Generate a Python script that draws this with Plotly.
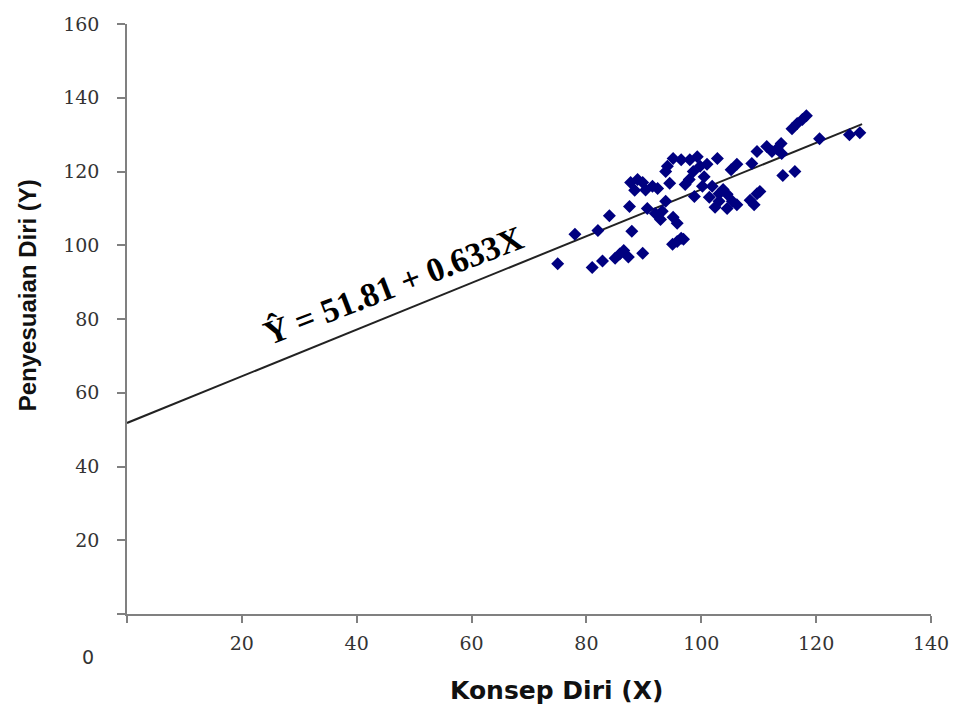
import plotly.graph_objects as go

# Scatter data: Konsep Diri (X) vs Penyesuaian Diri (Y)
konsep_diri = [75, 78, 81, 82, 82.8, 84, 85, 85.8, 86.5, 87.3, 87.9, 87.5, 87.7, 88.9, 88.4,
               89.8, 89.8, 90.3, 90.6, 91.5, 92.4, 92, 92.9, 93.2, 93.8, 93.8, 94.1, 94.5,
               95.1, 95.1, 95.8, 95, 95.8, 96.5, 96.5, 96.9, 97.2, 98, 97.9, 98.6, 98.8,
               99.3, 99.8, 100.2, 100.5, 101, 101.4, 101.9, 102.4, 102.8, 103.1, 103.1,
               103.8, 104.5, 104.5, 105.2, 105.4, 106.2, 106.2, 108.5, 108.8, 109.2, 109.7,
               109.7, 110.2, 111.4, 112.3, 113.2, 113.9, 114, 115.8, 116.7, 117.6, 118.3,
               114.2, 116.3, 120.6, 125.8, 127.6]
penyesuaian_diri = [95, 103, 94, 104, 95.7, 108, 96.5, 97.6, 98.6, 96.8, 103.8, 110.5, 117, 117.8,
                    114.9, 117, 97.8, 115, 110, 116, 115.4, 108.6, 107, 109.2, 111.9, 120, 121.4,
                    116.8, 123.5, 107.6, 106, 100.3, 101, 101.9, 123.2, 101.6, 116.5, 123.2,
                    117.8, 120, 113.2, 124, 121.4, 116, 118.6, 122, 113, 116, 110.3, 123.5, 114,
                    111.9, 115.1, 110, 113.8, 120.5, 111.9, 122, 111, 112.2, 122.2, 111, 114,
                    125.4, 114.6, 126.8, 125.4, 126.2, 127.6, 124.9, 131.6, 133, 134.1, 135.1,
                    118.9, 120, 128.9, 130, 130.5]

# Regression: Y = 51.81 + 0.633 X
intercept = 51.81
slope = 0.633
line_x = [0, 128]
line_y = [intercept + slope * v for v in line_x]

x_ticks = [0, 20, 40, 60, 80, 100, 120, 140]
y_ticks = [0, 20, 40, 60, 80, 100, 120, 140, 160]

fig = go.Figure()
fig.add_trace(go.Scatter(x=line_x, y=line_y, mode="lines",
                         line=dict(color="#222222", width=2), showlegend=False, hoverinfo="skip"))
fig.add_trace(go.Scatter(x=konsep_diri, y=penyesuaian_diri, mode="markers",
                         marker=dict(symbol="diamond", size=10, color="#000080",
                                     line=dict(width=0)), showlegend=False))

tick_font = dict(family="DejaVu Serif", size=19, color="#333333")
fig.update_layout(
    width=961, height=708,
    margin=dict(l=127, r=28, t=24, b=94),
    paper_bgcolor="white", plot_bgcolor="white",
    xaxis=dict(range=[0, 140], tickvals=x_ticks,
               ticktext=["" if v == 0 else str(v) for v in x_ticks],
               showgrid=False, zeroline=False, showline=True, linecolor="#808080", linewidth=1.5,
               ticks="outside", ticklen=7, tickcolor="#808080", tickwidth=1.5,
               tickfont=tick_font, ticklabelstandoff=4),
    yaxis=dict(range=[0, 160], tickvals=y_ticks,
               ticktext=["" if v == 0 else str(v) for v in y_ticks],
               showgrid=False, zeroline=False, showline=True, linecolor="#808080", linewidth=1.5,
               ticks="outside", ticklen=8, tickcolor="#808080", tickwidth=1.5,
               tickfont=tick_font, ticklabelstandoff=14),
)

fig.add_annotation(x=46.4, y=89, xref="x", yref="y", text="<b>Ŷ = 51.81 + 0.633X</b>",
                   showarrow=False, textangle=-21, xanchor="center", yanchor="middle",
                   font=dict(family="Liberation Serif", size=34, color="black"))
fig.add_annotation(x=(558 - 127) / 806, y=(614 - 690) / 590, xref="paper", yref="paper",
                   text="<b>Konsep Diri (X)</b>", showarrow=False,
                   xanchor="center", yanchor="middle",
                   font=dict(family="DejaVu Sans", size=25, color="#111111"))
fig.add_annotation(x=(27 - 127) / 806, y=(614 - 295) / 590, xref="paper", yref="paper",
                   text="<b>Penyesuaian Diri (Y)</b>", showarrow=False, textangle=-90,
                   xanchor="center", yanchor="middle",
                   font=dict(family="Liberation Sans", size=24, color="#111111"))
fig.add_annotation(x=(88 - 127) / 806, y=(614 - 657) / 590, xref="paper", yref="paper",
                   text="0", showarrow=False, xanchor="center", yanchor="middle",
                   font=dict(family="DejaVu Sans", size=19, color="#333333"))

fig.write_html("out.html")
